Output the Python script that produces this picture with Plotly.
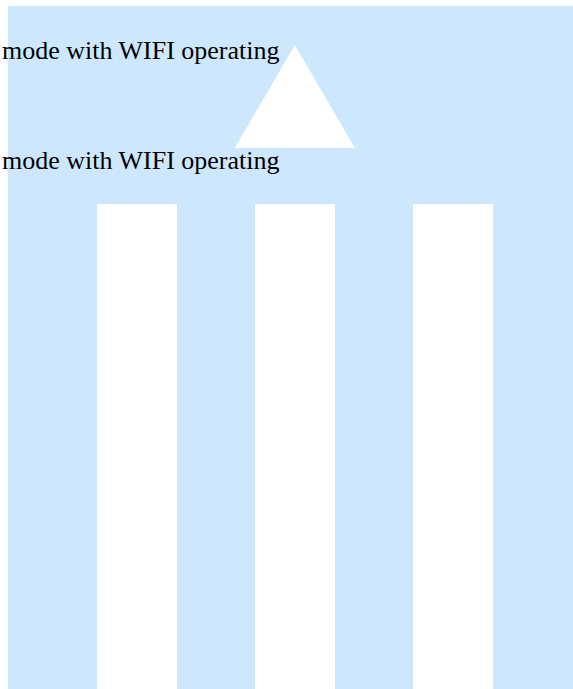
import plotly.graph_objects as go

# Data
bar_positions = [0, 1, 2]
bar_values = [71.0, 71.0, 71.0]
triangle_x = [0.621, 1.0, 1.379, 0.621]
triangle_y = [79.2, 94.3, 79.2, 79.2]
label_texts = ["mode with WIFI operating", "mode with WIFI operating"]
label_y = [0.9347, 0.7737]

BG = "#cde8fe"

fig = go.Figure()
fig.add_trace(go.Bar(
    x=bar_positions, y=bar_values, width=0.505,
    marker=dict(color="white", line=dict(width=0)),
    hoverinfo="skip", showlegend=False,
))
fig.add_trace(go.Scatter(
    x=triangle_x, y=triangle_y, mode="lines", fill="toself",
    fillcolor="white", line=dict(width=0, color="white"),
    hoverinfo="skip", showlegend=False,
))

for t, yy in zip(label_texts, label_y):
    fig.add_annotation(
        text=t, xref="paper", yref="paper", x=-0.015, y=yy,
        xanchor="left", yanchor="middle", showarrow=False,
        font=dict(family="Liberation Serif, Times New Roman, Times, serif", size=26, color="black"),
    )

fig.update_layout(
    width=573, height=689,
    margin=dict(l=8, r=0, t=6, b=0),
    paper_bgcolor="white", plot_bgcolor=BG,
    xaxis=dict(range=[-0.812, 2.757], visible=False, showgrid=False, zeroline=False),
    yaxis=dict(range=[0, 100], visible=False, showgrid=False, zeroline=False),
    bargap=0,
)

fig.write_html(
    "out.html",
    config={"displayModeBar": False},
    post_script="document.body.style.margin='0';document.body.style.overflow='hidden';",
)
